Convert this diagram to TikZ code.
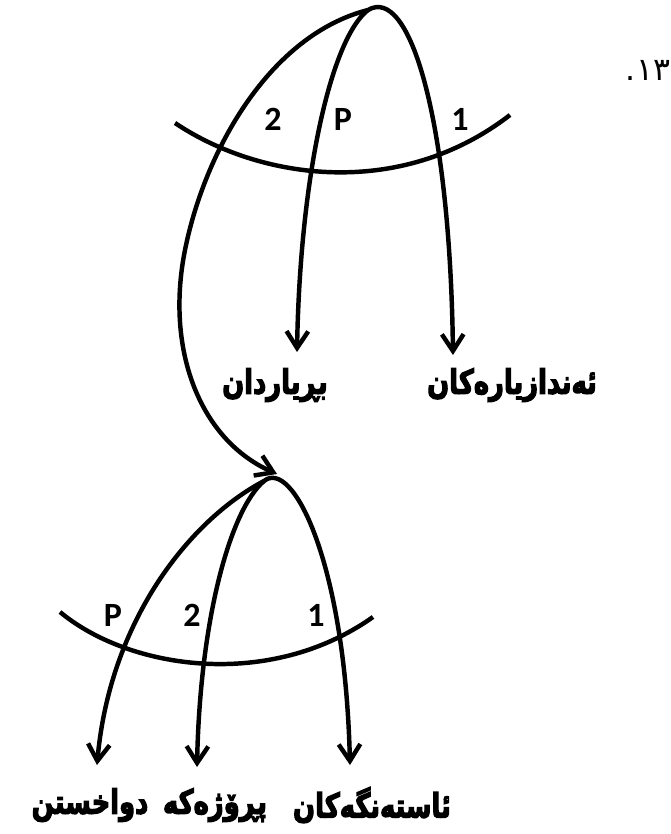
\documentclass[tikz,border=0pt]{standalone}
\usepackage{fontspec}
\usepackage{graphicx}
\setmainfont{Carlito}
\newfontfamily\arabicfont[Script=Arabic,BoldFeatures={FakeBold=4}]{DejaVu Sans}
\newfontfamily\numfont{DejaVu Sans}
\TeXXeTstate=1
\usetikzlibrary{arrows.meta}
\newcommand{\kuword}[1]{\scalebox{1}[1.3]{\beginR #1\endR}}

\begin{document}
\begin{tikzpicture}[x=0.03cm,y=-0.03cm,line width=3.8pt,
  link/.style={-{Straight Barb[length=5mm,width=6.5mm]}},
  tag/.style={font=\fontsize{29}{30}\selectfont\bfseries,inner sep=0pt},
  word/.style={font=\fontsize{22}{24}\selectfont\bfseries\arabicfont,inner sep=0pt}]
\useasboundingbox (0,0) rectangle (671,834);

% upper system
\coordinate (topApex) at (368,10);
\coordinate (topTipP) at (297,352);
\coordinate (topTipOne) at (453,355);
\coordinate (lowIn) at (277,474);
\draw (175,123) .. controls (260,180) and (400,200) .. (510,115);
\draw[link] (topApex) .. controls (410,-15) and (450,120) .. (topTipOne);
\draw[link] (topApex) .. controls (330,40) and (300,180) .. (topTipP);
\draw[link] (topApex) .. controls (270,35) and (205,150) .. (185,250)
  .. controls (165,350) and (200,440) .. (lowIn);
\node[tag] (t2) at (273,119) {2};
\node[tag] (tP) at (343,119) {P};
\node[tag] (t1) at (460,119) {1};
\node[word] (decide) at (275,385) {\kuword{بڕیاردان}};
\node[word] (engineers) at (512,385) {\kuword{ئەندازیارەکان}};

% lower system
\coordinate (lowApex) at (264,481);
\coordinate (lowTipP) at (97,765);
\coordinate (lowTipTwo) at (197,767);
\coordinate (lowTipOne) at (350,765);
\draw (60,612) .. controls (130,670) and (270,690) .. (373,617);
\draw[link] (lowApex) .. controls (292,458) and (345,560) .. (lowTipOne);
\draw[link] (lowApex) .. controls (230,510) and (200,620) .. (lowTipTwo);
\draw[link] (lowApex) .. controls (190,520) and (110,620) .. (lowTipP);
\node[tag] (bP) at (113,615) {P};
\node[tag] (b2) at (192,615) {2};
\node[tag] (b1) at (316,615) {1};
\node[word] (obstacles) at (372,805) {\kuword{ئاستەنگەکان}};
\node[word] (project) at (215,805) {\kuword{پڕۆژەکە}};
\node[word] (delay) at (90,805) {\kuword{دواخستن}};

\node[font=\fontsize{27}{29}\selectfont\numfont,inner sep=0pt] (num) at (648,70) {.١٣};
\end{tikzpicture}
\end{document}
